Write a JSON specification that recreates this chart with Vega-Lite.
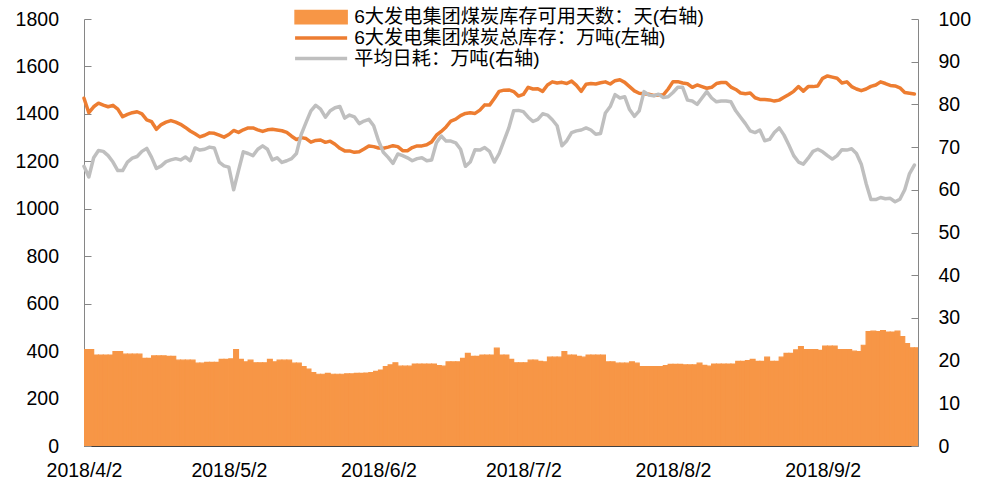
{
"$schema":"https://vega.github.io/schema/vega-lite/v6.json",
"width":834,"height":427,
"autosize":{"type":"none"},
"padding":{"left":84,"top":19,"right":64,"bottom":40},
"background":"white",
"config":{"view":{"stroke":null},"axis":{"labelFont":"Liberation Sans","labelFontSize":19.5,"labelColor":"#000","grid":false,"title":null,"zindex":1},
 "legend":{"title":null,"padding":0,"labelFont":"Liberation Sans, Noto Sans CJK SC","labelFontSize":19.2,"labelColor":"#000","labelLimit":600,"rowPadding":0.5}},
"data":{"format":{"parse":{"t":"date:'%Y-%m-%d'"}},"values":[
{"t":"2018-04-02","a":22.6,"s":1466,"c":65.5},
{"t":"2018-04-03","a":22.6,"s":1405,"c":63.0},
{"t":"2018-04-04","a":21.3,"s":1430,"c":67.5},
{"t":"2018-04-05","a":21.3,"s":1445,"c":69.2},
{"t":"2018-04-06","a":21.3,"s":1437,"c":69.0},
{"t":"2018-04-07","a":21.3,"s":1430,"c":68.0},
{"t":"2018-04-08","a":22.1,"s":1436,"c":66.5},
{"t":"2018-04-09","a":22.1,"s":1420,"c":64.5},
{"t":"2018-04-10","a":21.5,"s":1388,"c":64.5},
{"t":"2018-04-11","a":21.5,"s":1398,"c":66.5},
{"t":"2018-04-12","a":21.5,"s":1405,"c":67.4},
{"t":"2018-04-13","a":21.5,"s":1409,"c":67.8},
{"t":"2018-04-14","a":20.5,"s":1400,"c":69.0},
{"t":"2018-04-15","a":20.5,"s":1375,"c":69.7},
{"t":"2018-04-16","a":21.1,"s":1367,"c":67.6},
{"t":"2018-04-17","a":21.1,"s":1335,"c":65.0},
{"t":"2018-04-18","a":21.1,"s":1355,"c":65.6},
{"t":"2018-04-19","a":21.0,"s":1365,"c":66.6},
{"t":"2018-04-20","a":21.0,"s":1372,"c":67.0},
{"t":"2018-04-21","a":20.1,"s":1365,"c":67.3},
{"t":"2018-04-22","a":20.1,"s":1356,"c":67.0},
{"t":"2018-04-23","a":20.1,"s":1343,"c":67.7},
{"t":"2018-04-24","a":20.1,"s":1328,"c":66.8},
{"t":"2018-04-25","a":19.4,"s":1316,"c":69.8},
{"t":"2018-04-26","a":19.4,"s":1303,"c":69.3},
{"t":"2018-04-27","a":19.6,"s":1310,"c":69.5},
{"t":"2018-04-28","a":19.6,"s":1320,"c":70.0},
{"t":"2018-04-29","a":19.6,"s":1318,"c":69.8},
{"t":"2018-04-30","a":20.3,"s":1310,"c":66.5},
{"t":"2018-05-01","a":20.3,"s":1302,"c":65.6},
{"t":"2018-05-02","a":20.4,"s":1313,"c":65.3},
{"t":"2018-05-03","a":22.6,"s":1330,"c":60.0},
{"t":"2018-05-04","a":20.3,"s":1322,"c":64.5},
{"t":"2018-05-05","a":19.7,"s":1333,"c":68.9},
{"t":"2018-05-06","a":20.1,"s":1341,"c":68.5},
{"t":"2018-05-07","a":19.5,"s":1341,"c":68.0},
{"t":"2018-05-08","a":19.5,"s":1333,"c":69.5},
{"t":"2018-05-09","a":19.5,"s":1326,"c":70.3},
{"t":"2018-05-10","a":20.3,"s":1333,"c":69.5},
{"t":"2018-05-11","a":19.7,"s":1335,"c":67.0},
{"t":"2018-05-12","a":20.1,"s":1332,"c":67.5},
{"t":"2018-05-13","a":20.1,"s":1329,"c":66.4},
{"t":"2018-05-14","a":20.1,"s":1322,"c":66.8},
{"t":"2018-05-15","a":19.4,"s":1306,"c":67.3},
{"t":"2018-05-16","a":19.4,"s":1292,"c":68.5},
{"t":"2018-05-17","a":18.6,"s":1300,"c":73.0},
{"t":"2018-05-18","a":18.0,"s":1296,"c":75.8},
{"t":"2018-05-19","a":17.2,"s":1281,"c":78.5},
{"t":"2018-05-20","a":16.8,"s":1288,"c":79.8},
{"t":"2018-05-21","a":16.8,"s":1290,"c":78.9},
{"t":"2018-05-22","a":17.0,"s":1280,"c":77.0},
{"t":"2018-05-23","a":16.8,"s":1285,"c":78.5},
{"t":"2018-05-24","a":16.8,"s":1272,"c":79.2},
{"t":"2018-05-25","a":16.8,"s":1255,"c":79.5},
{"t":"2018-05-26","a":16.9,"s":1244,"c":76.8},
{"t":"2018-05-27","a":16.9,"s":1244,"c":77.5},
{"t":"2018-05-28","a":17.0,"s":1238,"c":77.1},
{"t":"2018-05-29","a":17.0,"s":1240,"c":75.5},
{"t":"2018-05-30","a":17.1,"s":1252,"c":76.1},
{"t":"2018-05-31","a":17.2,"s":1265,"c":76.5},
{"t":"2018-06-01","a":17.5,"s":1262,"c":75.0},
{"t":"2018-06-02","a":17.8,"s":1256,"c":71.5},
{"t":"2018-06-03","a":18.6,"s":1255,"c":68.8},
{"t":"2018-06-04","a":19.0,"s":1260,"c":67.6},
{"t":"2018-06-05","a":19.5,"s":1266,"c":66.2},
{"t":"2018-06-06","a":18.7,"s":1262,"c":68.4},
{"t":"2018-06-07","a":18.7,"s":1245,"c":68.0},
{"t":"2018-06-08","a":18.7,"s":1245,"c":67.5},
{"t":"2018-06-09","a":19.2,"s":1258,"c":66.8},
{"t":"2018-06-10","a":19.2,"s":1265,"c":67.3},
{"t":"2018-06-11","a":19.2,"s":1265,"c":67.5},
{"t":"2018-06-12","a":19.2,"s":1270,"c":66.8},
{"t":"2018-06-13","a":19.2,"s":1282,"c":67.0},
{"t":"2018-06-14","a":18.8,"s":1310,"c":71.0},
{"t":"2018-06-15","a":18.7,"s":1326,"c":72.6},
{"t":"2018-06-16","a":19.7,"s":1345,"c":71.4},
{"t":"2018-06-17","a":19.7,"s":1370,"c":71.4},
{"t":"2018-06-18","a":19.7,"s":1378,"c":71.0},
{"t":"2018-06-19","a":20.5,"s":1393,"c":69.5},
{"t":"2018-06-20","a":21.7,"s":1402,"c":65.5},
{"t":"2018-06-21","a":21.0,"s":1405,"c":66.5},
{"t":"2018-06-22","a":21.0,"s":1402,"c":69.4},
{"t":"2018-06-23","a":21.3,"s":1416,"c":69.3},
{"t":"2018-06-24","a":21.3,"s":1438,"c":69.9},
{"t":"2018-06-25","a":21.3,"s":1437,"c":69.0},
{"t":"2018-06-26","a":22.9,"s":1465,"c":66.5},
{"t":"2018-06-27","a":21.3,"s":1495,"c":68.5},
{"t":"2018-06-28","a":21.3,"s":1500,"c":71.5},
{"t":"2018-06-29","a":20.3,"s":1501,"c":74.5},
{"t":"2018-06-30","a":19.5,"s":1494,"c":78.5},
{"t":"2018-07-01","a":19.5,"s":1475,"c":78.6},
{"t":"2018-07-02","a":19.5,"s":1482,"c":78.3},
{"t":"2018-07-03","a":20.1,"s":1512,"c":77.0},
{"t":"2018-07-04","a":20.1,"s":1505,"c":76.0},
{"t":"2018-07-05","a":19.8,"s":1506,"c":76.5},
{"t":"2018-07-06","a":19.7,"s":1495,"c":77.8},
{"t":"2018-07-07","a":20.8,"s":1522,"c":77.5},
{"t":"2018-07-08","a":20.8,"s":1535,"c":76.4},
{"t":"2018-07-09","a":20.8,"s":1530,"c":75.0},
{"t":"2018-07-10","a":22.1,"s":1533,"c":70.3},
{"t":"2018-07-11","a":21.3,"s":1528,"c":71.5},
{"t":"2018-07-12","a":21.3,"s":1538,"c":73.4},
{"t":"2018-07-13","a":21.0,"s":1520,"c":73.8},
{"t":"2018-07-14","a":20.8,"s":1495,"c":74.0},
{"t":"2018-07-15","a":21.3,"s":1525,"c":74.5},
{"t":"2018-07-16","a":21.3,"s":1528,"c":74.0},
{"t":"2018-07-17","a":21.3,"s":1526,"c":73.0},
{"t":"2018-07-18","a":21.3,"s":1531,"c":73.2},
{"t":"2018-07-19","a":19.7,"s":1535,"c":78.0},
{"t":"2018-07-20","a":19.7,"s":1526,"c":79.5},
{"t":"2018-07-21","a":19.4,"s":1540,"c":82.3},
{"t":"2018-07-22","a":19.4,"s":1544,"c":81.5},
{"t":"2018-07-23","a":19.4,"s":1533,"c":81.8},
{"t":"2018-07-24","a":19.7,"s":1515,"c":78.8},
{"t":"2018-07-25","a":19.4,"s":1497,"c":77.2},
{"t":"2018-07-26","a":18.6,"s":1487,"c":78.5},
{"t":"2018-07-27","a":18.6,"s":1485,"c":83.0},
{"t":"2018-07-28","a":18.6,"s":1483,"c":82.2},
{"t":"2018-07-29","a":18.6,"s":1478,"c":82.0},
{"t":"2018-07-30","a":18.6,"s":1480,"c":82.4},
{"t":"2018-07-31","a":18.8,"s":1480,"c":81.6},
{"t":"2018-08-01","a":19.1,"s":1505,"c":81.8},
{"t":"2018-08-02","a":19.1,"s":1536,"c":82.8},
{"t":"2018-08-03","a":19.1,"s":1536,"c":84.0},
{"t":"2018-08-04","a":19.0,"s":1530,"c":84.0},
{"t":"2018-08-05","a":19.0,"s":1527,"c":81.0},
{"t":"2018-08-06","a":19.0,"s":1512,"c":80.8},
{"t":"2018-08-07","a":19.4,"s":1522,"c":80.0},
{"t":"2018-08-08","a":18.9,"s":1515,"c":81.5},
{"t":"2018-08-09","a":18.7,"s":1508,"c":83.0},
{"t":"2018-08-10","a":19.2,"s":1512,"c":81.5},
{"t":"2018-08-11","a":19.2,"s":1528,"c":80.6},
{"t":"2018-08-12","a":19.2,"s":1532,"c":80.8},
{"t":"2018-08-13","a":19.2,"s":1532,"c":80.8},
{"t":"2018-08-14","a":19.2,"s":1513,"c":80.6},
{"t":"2018-08-15","a":19.8,"s":1503,"c":78.5},
{"t":"2018-08-16","a":19.8,"s":1488,"c":77.0},
{"t":"2018-08-17","a":20.0,"s":1485,"c":75.5},
{"t":"2018-08-18","a":20.3,"s":1488,"c":73.8},
{"t":"2018-08-19","a":19.8,"s":1468,"c":73.4},
{"t":"2018-08-20","a":19.8,"s":1461,"c":74.0},
{"t":"2018-08-21","a":20.8,"s":1461,"c":71.5},
{"t":"2018-08-22","a":19.8,"s":1459,"c":71.8},
{"t":"2018-08-23","a":19.8,"s":1454,"c":73.4},
{"t":"2018-08-24","a":20.8,"s":1458,"c":74.5},
{"t":"2018-08-25","a":21.7,"s":1470,"c":72.8},
{"t":"2018-08-26","a":21.7,"s":1482,"c":70.5},
{"t":"2018-08-27","a":22.5,"s":1495,"c":68.0},
{"t":"2018-08-28","a":23.3,"s":1515,"c":66.5},
{"t":"2018-08-29","a":22.6,"s":1496,"c":66.0},
{"t":"2018-08-30","a":22.6,"s":1515,"c":67.4},
{"t":"2018-08-31","a":22.6,"s":1515,"c":69.0},
{"t":"2018-09-01","a":22.4,"s":1518,"c":69.5},
{"t":"2018-09-02","a":23.4,"s":1550,"c":68.9},
{"t":"2018-09-03","a":23.4,"s":1560,"c":68.0},
{"t":"2018-09-04","a":23.4,"s":1555,"c":67.2},
{"t":"2018-09-05","a":22.6,"s":1550,"c":68.0},
{"t":"2018-09-06","a":22.6,"s":1530,"c":69.4},
{"t":"2018-09-07","a":22.6,"s":1535,"c":69.3},
{"t":"2018-09-08","a":22.2,"s":1515,"c":69.6},
{"t":"2018-09-09","a":22.1,"s":1505,"c":68.5},
{"t":"2018-09-10","a":23.6,"s":1498,"c":66.0},
{"t":"2018-09-11","a":26.8,"s":1505,"c":61.5},
{"t":"2018-09-12","a":26.9,"s":1516,"c":57.7},
{"t":"2018-09-13","a":26.8,"s":1522,"c":57.7},
{"t":"2018-09-14","a":27.0,"s":1535,"c":58.2},
{"t":"2018-09-15","a":26.7,"s":1528,"c":57.9},
{"t":"2018-09-16","a":26.7,"s":1520,"c":58.0},
{"t":"2018-09-17","a":26.9,"s":1518,"c":57.2},
{"t":"2018-09-18","a":25.6,"s":1510,"c":57.8},
{"t":"2018-09-19","a":24.0,"s":1490,"c":60.0},
{"t":"2018-09-20","a":23.0,"s":1487,"c":63.8},
{"t":"2018-09-21","a":23.0,"s":1484,"c":65.8}
]},
"layer":[
{"transform":[{"timeUnit":"yearmonthdate","field":"t","as":"t0"}],
 "mark":{"type":"bar","clip":true,"stroke":"#F79646","strokeWidth":1.2},
 "encoding":{
  "x":{"field":"t0","type":"temporal","scale":{"domain":[{"year":2018,"month":4,"date":2},{"year":2018,"month":9,"date":21,"hours":18}]},
       "axis":{"values":[{"year":2018,"month":4,"date":2},{"year":2018,"month":5,"date":2},{"year":2018,"month":6,"date":2},{"year":2018,"month":7,"date":2},{"year":2018,"month":8,"date":2},{"year":2018,"month":9,"date":2}],
               "format":"%Y/%-m/%-d","tickSize":-7,"labelPadding":22.5,"domainColor":"#404040","tickColor":"#404040","labelFlush":false,"labelOverlap":false}},
  "x2":{"field":"t0_end"},
  "y":{"field":"a","type":"quantitative","scale":{"domain":[0,100],"padding":0,"nice":false},
       "axis":{"orient":"right","values":[0,10,20,30,40,50,60,70,80,90,100],"tickSize":-7,"labelPadding":27,"domainColor":"#868686","tickColor":"#868686"}},
  "y2":{"datum":0},
  "fill":{"datum":"6大发电集团煤炭库存可用天数：天(右轴)","type":"nominal",
    "scale":{"domain":["6大发电集团煤炭库存可用天数：天(右轴)"],"range":["#F79646"]},
    "legend":{"orient":"none","legendX":227.5,"legendY":-11.5,
      "symbolType":"M-3.47,-0.87H3.47V0.87H-3.47Z","symbolSize":225,"symbolOpacity":1,"labelOffset":23.5}}
 }},
{"mark":{"type":"line","strokeWidth":3.5,"strokeJoin":"round","strokeCap":"round"},
 "encoding":{
  "x":{"field":"t","type":"temporal"},
  "y":{"field":"s","type":"quantitative","scale":{"domain":[0,1800],"nice":false},
       "axis":{"orient":"left","format":"d","values":[0,200,400,600,800,1000,1200,1400,1600,1800],"tickSize":-7,"labelPadding":32.5,"domainColor":"#868686","tickColor":"#868686"}},
  "stroke":{"datum":"6大发电集团煤炭总库存：万吨(左轴)","type":"nominal",
    "scale":{"domain":["6大发电集团煤炭总库存：万吨(左轴)","平均日耗：万吨(右轴)"],"range":["#ED7D31","#BFBFBF"]},
    "legend":{"orient":"none","legendX":227.5,"legendY":9.5,
      "symbolType":"M-3.47,0H3.47","symbolSize":225,"symbolStrokeWidth":3.5,"symbolOpacity":1,"labelOffset":23.5}}
 }},
{"mark":{"type":"line","strokeWidth":3.5,"strokeJoin":"round","strokeCap":"round"},
 "encoding":{
  "x":{"field":"t","type":"temporal"},
  "y":{"field":"c","type":"quantitative","scale":{"domain":[0,100],"nice":false},"axis":null},
  "stroke":{"datum":"平均日耗：万吨(右轴)","type":"nominal"}
 }}
],
"resolve":{"scale":{"y":"independent"}}
}
